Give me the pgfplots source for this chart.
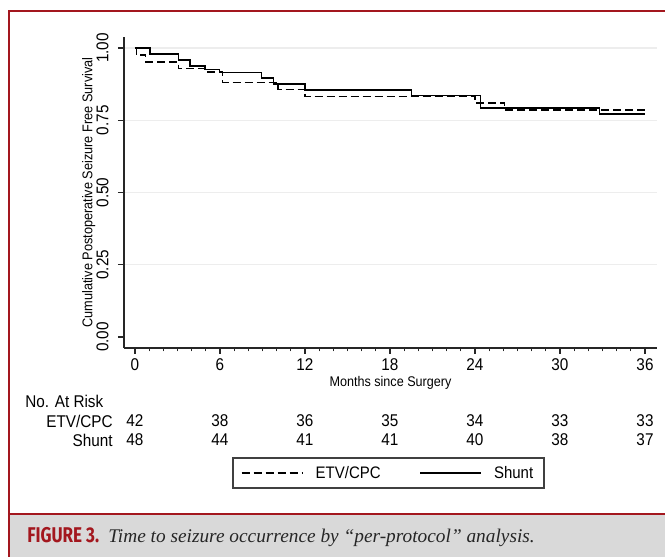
\documentclass[border=0pt]{standalone}
\usepackage{fontspec}
\setmainfont{Liberation Sans}[FakeStretch=0.9]
\newfontfamily\capsans{Fira Sans}[FakeStretch=0.8]
\newfontfamily\capserif{Liberation Serif}
\usepackage{pgfplots}
\pgfplotsset{compat=1.18}
\definecolor{figred}{HTML}{A3171E}
\definecolor{capgray}{HTML}{D9D9D9}

\pgfplotstableread{
t s
0    1.000
0.1  0.976
0.75 0.952
3.06 0.929
4.94 0.917
6.19 0.881
10.1 0.857
12.0 0.833
24.0 0.810
26.1 0.786
36.0 0.786
}\etvcpc

\pgfplotstableread{
t s
0    1.000
1.06 0.979
3.06 0.958
3.88 0.9375
4.94 0.925
5.95 0.915
8.94 0.896
9.76 0.875
12.0 0.854
19.5 0.835
24.4 0.792
32.8 0.771
36.0 0.771
}\shunt

% numbers at risk, ETV/CPC row then Shunt row
\pgfplotstableread{
t y n
0  -0.2907 42
6  -0.2907 38
12 -0.2907 36
18 -0.2907 35
24 -0.2907 34
30 -0.2907 33
36 -0.2907 33
0  -0.3564 48
6  -0.3564 44
12 -0.3564 41
18 -0.3564 41
24 -0.3564 40
30 -0.3564 38
36 -0.3564 37
}\atrisk

\begin{document}
\begin{tikzpicture}
\useasboundingbox (0pt,0pt) rectangle (498.75pt,417.75pt);
\begin{scope}[x=0.75pt,y=0.75pt]
  \fill[capgray] (9,0) rectangle (665,43);
  \draw[figred, line width=1.2pt] (9,43) -- (665,43);
  \draw[figred, line width=2.2pt] (9,0) -- (9,546) -- (665,546);
  \node[anchor=base west, inner sep=0, text=figred, font=\capsans\bfseries\fontsize{16}{18}\selectfont] at (27,14) {FIGURE 3.};
  \node[anchor=base west, inner sep=0, text=black!85, font=\capserif\itshape\fontsize{14.5}{16}\selectfont] at (108,14) {Time to seizure occurrence by “per-protocol” analysis.};
\end{scope}

\begin{axis}[
  at={(93pt,156.75pt)}, anchor=south west,
  scale only axis, width=399.75pt, height=233.25pt,
  xmin=-0.776, xmax=36.847, ymin=-0.038, ymax=1.038,
  clip=false,
  axis x line*=bottom, axis y line*=left,
  axis line style={-, line width=1pt, black!85},
  xtick={0,6,...,36}, minor x tick num=5,
  ytick={0.25,0.5,0.75,1},
  yticklabels={0.25,0.50,0.75,1.00},
  extra y ticks={0}, extra y tick labels={0.00},
  extra y tick style={grid=none},
  ymajorgrids, grid style={line width=1pt, black!7},
  tick align=outside, major tick length=4.5pt, minor tick length=2.5pt,
  tick style={line width=0.9pt, black!85},
  /pgf/number format/assume math mode=true,
  tick label style={font=\fontsize{12.75}{14}\selectfont},
  yticklabel style={rotate=90, anchor=south},
  yticklabel shift=3.5pt,
  xlabel={Months since Surgery},
  xlabel style={at={(axis description cs:0.5,-0.1125)}, anchor=center, font=\fontsize{10.5}{12}\selectfont},
  ylabel={Cumulative Postoperative Seizure Free Survival},
  ylabel style={at={(axis description cs:-0.066,0.5)}, anchor=center, font=\fontsize{10.6}{12}\selectfont},
  legend columns=2,
  legend style={at={(axis description cs:0.4962,-0.4019)}, anchor=center,
    draw=black!75, line width=1.1pt, font=\fontsize{12.5}{14}\selectfont,
    /tikz/every odd column/.append style={column sep=7pt},
    /tikz/every even column/.append style={column sep=27pt},
    inner xsep=6pt, inner ysep=4pt},
  legend image code/.code={\draw[#1, line width=1pt] (0pt,0pt) -- (46pt,0pt);},
]
\addplot[const plot, black, line width=1.1pt, dash pattern=on 6pt off 3pt] table[x=t, y=s] {\etvcpc};
\addlegendentry{ETV/CPC}
\addplot[const plot, black, line width=1.1pt] table[x=t, y=s] {\shunt};
\addlegendentry{Shunt}

\addplot[draw=none, mark=none, forget plot, nodes near coords, point meta=explicit symbolic,
  nodes near coords style={anchor=center, font=\fontsize{12.75}{14}\selectfont}]
  table[x=t, y=y, meta=n] {\atrisk};

\node[anchor=west, font=\fontsize{12.75}{14}\selectfont] at (axis cs:-8.07,-0.2215) {No. At Risk};
\node[anchor=east, font=\fontsize{12.75}{14}\selectfont] at (axis cs:-1.24,-0.2907) {ETV/CPC};
\node[anchor=east, font=\fontsize{12.75}{14}\selectfont] at (axis cs:-1.24,-0.3564) {Shunt};
\end{axis}
\end{tikzpicture}
\end{document}
